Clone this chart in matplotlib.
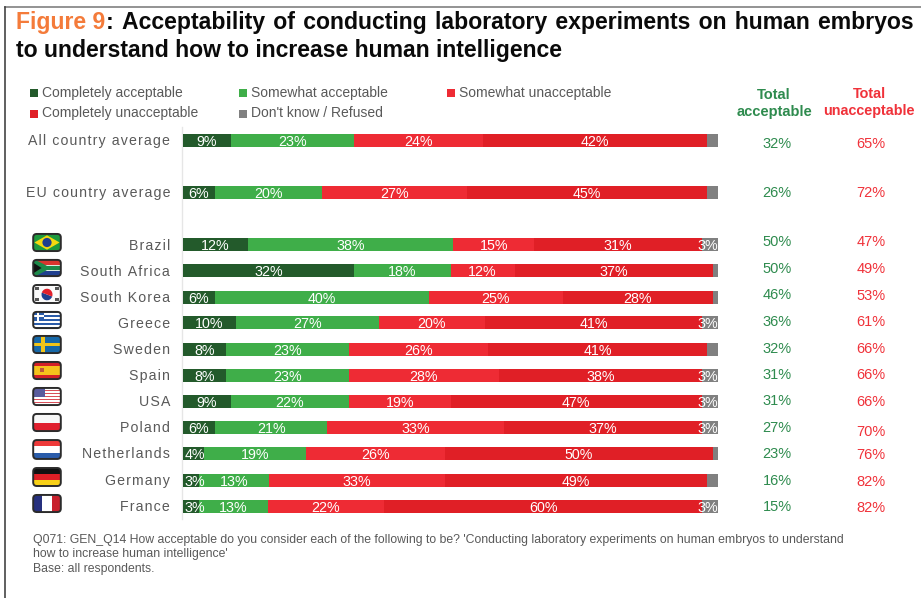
import matplotlib
matplotlib.use("Agg")
import matplotlib.pyplot as plt
from matplotlib.patches import FancyBboxPatch, Polygon, Circle, Rectangle, Wedge
from matplotlib.transforms import Affine2D

plt.rcParams['font.family'] = ['Liberation Sans', 'DejaVu Sans']

W, H = 921, 598

# survey results, one entry per row
countries = ["All country average", "EU country average", "Brazil", "South Africa",
             "South Korea", "Greece", "Sweden", "Spain", "USA", "Poland",
             "Netherlands", "Germany", "France"]
completely_acc = [9, 6, 12, 32, 6, 10, 8, 8, 9, 6, 4, 3, 3]
somewhat_acc = [23, 20, 38, 18, 40, 27, 23, 23, 22, 21, 19, 13, 13]
somewhat_unacc = [24, 27, 15, 12, 25, 20, 26, 28, 19, 33, 26, 33, 22]
completely_unacc = [42, 45, 31, 37, 28, 41, 41, 38, 47, 37, 50, 49, 60]
dont_know = [2, 2, 3, 1, 1, 3, 2, 3, 3, 3, 1, 2, 3]
dont_know_labelled = [False, False, True, False, False, True, False, True, True, True, False, False, True]
total_acc = [32, 26, 50, 50, 46, 36, 32, 31, 31, 27, 23, 16, 15]
total_unacc = [65, 72, 47, 49, 53, 61, 66, 66, 66, 70, 76, 82, 82]

series = [completely_acc, somewhat_acc, somewhat_unacc, completely_unacc, dont_know]
colors = ["#235A2B", "#3FAE49", "#EE2B34", "#E01F26", "#808080"]
legend_names = ["Completely acceptable", "Somewhat acceptable", "Somewhat unacceptable",
                "Completely unacceptable", "Don't know / Refused"]

# layout, in pixels from the top left
row_y = [140, 192, 244.5, 270.5, 297, 322.7, 349, 375, 401, 427, 453.5, 480, 506]
acc_y = [144, 193, 242, 269, 295, 322, 349, 375, 401, 428, 454, 481, 507]
unacc_y = [144, 193, 242, 269, 296, 322, 349, 375, 402, 432, 455, 482, 508]
flag_tops = [233, 259, 284, 311, 335, 361, 387, 413, 439, 467, 494]
flag_bottoms = [252, 277, 304, 329, 354, 380, 406, 432, 460, 487, 513]
BAR_LEFT, BAR_RIGHT, BAR_TOP, BAR_BOTTOM = 183, 718, 127, 519

GREY_TEXT = "#595959"
GREEN_TEXT = "#2E8B4E"
RED_TEXT = "#F0323A"


def track(s):
    # hair spaces between the letters give the wider letter spacing of the row labels
    return "\u200a".join(s)


def flag_axes(fig, top, bottom):
    ax = fig.add_axes([32 / W, 1 - bottom / H, 30 / W, (bottom - top) / H])
    ax.set_xlim(0, 1)
    ax.set_ylim(1, 0)
    ax.axis("off")
    return ax


def finish_flag(ax):
    # rounded corners and a dark outline on top of whatever was drawn
    clip = FancyBboxPatch((0.04, 0.05), 0.92, 0.9, boxstyle="round,pad=0,rounding_size=0.12",
                          mutation_aspect=1.5, transform=ax.transData, fc="none", ec="none")
    ax.add_patch(clip)
    for art in list(ax.patches) + list(ax.collections):
        if art is not clip:
            art.set_clip_path(clip)
    ax.add_patch(FancyBboxPatch((0.04, 0.05), 0.92, 0.9, boxstyle="round,pad=0,rounding_size=0.12",
                                mutation_aspect=1.5, fc="none", ec="#2b2b2b", lw=1.4, clip_on=False))


def h_bands(ax, cols):
    n = len(cols)
    for i, c in enumerate(cols):
        ax.add_patch(Rectangle((0, i / n), 1, 1 / n, fc=c, ec="none"))


def v_bands(ax, cols):
    n = len(cols)
    for i, c in enumerate(cols):
        ax.add_patch(Rectangle((i / n, 0), 1 / n, 1, fc=c, ec="none"))


def round_scale(ax):
    # lets circles be given in pixels inside the stretched 0-1 flag axes
    return Affine2D().scale(1 / 30, 1 / 19) + ax.transData


def brazil(ax):
    h_bands(ax, ["#1E9A3E"])
    ax.add_patch(Polygon([(0.08, 0.5), (0.5, 0.12), (0.92, 0.5), (0.5, 0.88)], fc="#F5D90F", ec="none"))
    ax.add_patch(Circle((15, 9.5), 4.6, fc="#1F3F8F", ec="none", transform=round_scale(ax)))


def south_africa(ax):
    h_bands(ax, ["#D9352F", "#FFFFFF", "#1F3F8F"])
    ax.add_patch(Polygon([(0, 0.1), (0.42, 0.5), (0, 0.9)], fc="#F5C518", ec="none"))
    ax.add_patch(Polygon([(0.06, 0.0), (0.5, 0.38), (1, 0.38), (1, 0.62), (0.5, 0.62), (0.06, 1)], fc="#1E8A4A", ec="none"))
    ax.add_patch(Polygon([(0, 0.16), (0.32, 0.5), (0, 0.84)], fc="#111111", ec="none"))


def south_korea(ax):
    h_bands(ax, ["#FAFAFA"])
    ax.add_patch(Wedge((15, 10), 5.5, 20, 200, fc="#1F3F8F", ec="none", transform=round_scale(ax)))
    ax.add_patch(Wedge((15, 10), 5.5, 200, 380, fc="#E0202C", ec="none", transform=round_scale(ax)))
    for x, y in [(0.17, 0.22), (0.83, 0.22), (0.17, 0.78), (0.83, 0.78)]:
        ax.add_patch(Rectangle((x - 0.07, y - 0.08), 0.14, 0.16, fc="#555555", ec="none"))


def greece(ax):
    h_bands(ax, ["#2A5CAA", "#FFFFFF"] * 4 + ["#2A5CAA"])
    ax.add_patch(Rectangle((0, 0), 0.4, 0.55, fc="#2A5CAA", ec="none"))
    ax.add_patch(Rectangle((0.16, 0), 0.08, 0.55, fc="#FFFFFF", ec="none"))
    ax.add_patch(Rectangle((0, 0.22), 0.4, 0.11, fc="#FFFFFF", ec="none"))


def sweden(ax):
    h_bands(ax, ["#1668A8"])
    ax.add_patch(Rectangle((0.3, 0), 0.14, 1, fc="#F0C419", ec="none"))
    ax.add_patch(Rectangle((0, 0.41), 1, 0.18, fc="#F0C419", ec="none"))


def spain(ax):
    h_bands(ax, ["#D32027", "#F6C21C", "#F6C21C", "#D32027"])
    ax.add_patch(Rectangle((0.28, 0.38), 0.12, 0.22, fc="#C0563A", ec="none"))


def usa(ax):
    h_bands(ax, ["#D9505A", "#FFFFFF"] * 6 + ["#D9505A"])
    ax.add_patch(Rectangle((0, 0), 0.42, 0.52, fc="#5A5C9E", ec="none"))


def poland(ax):
    h_bands(ax, ["#F7F7F7", "#E01F2E"])


def netherlands(ax):
    h_bands(ax, ["#EE3A3A", "#FFFFFF", "#2A5CAA"])


def germany(ax):
    h_bands(ax, ["#111111", "#DD1F26", "#F8D117"])


def france(ax):
    v_bands(ax, ["#26307E", "#FFFFFF", "#C8202C"])


flag_painters = [brazil, south_africa, south_korea, greece, sweden, spain, usa,
                 poland, netherlands, germany, france]

fig = plt.figure(figsize=(W / 100, H / 100), dpi=100, facecolor="white")

# whole figure axes in pixel units for the text and frame
page = fig.add_axes([0, 0, 1, 1])
page.set_xlim(0, W)
page.set_ylim(H, 0)
page.axis("off")

page.plot([4.5, W], [6.5, 6.5], color="#8a8a8a", lw=1.3)
page.plot([4.5, 4.5], [6.5, H], color="#444444", lw=1.2)

# title, first line stretched to the full width through wider word gaps
TITLE_SIZE = 16.55
gap = " \u200a"
page.text(16, 29.5, "Figure 9", color="#F47B3A", fontsize=TITLE_SIZE, fontweight="bold", va="baseline")
page.text(106, 29.5, gap.join(": Acceptability of conducting laboratory experiments on human embryos".split(" ")),
          color="#0a0a0a", fontsize=TITLE_SIZE, fontweight="bold", va="baseline")
page.text(16, 57, "to understand how to increase human intelligence", color="#0a0a0a",
          fontsize=TITLE_SIZE, fontweight="bold", va="baseline")

# legend
legend_pos = [(30, 92.5), (239, 92.5), (447, 92.5), (30, 113), (239, 113)]
for name, col, (lx, ly) in zip(legend_names, colors, legend_pos):
    page.add_patch(Rectangle((lx, ly - 3.5), 8, 8, fc=col, ec="none"))
    page.text(lx + 12, ly, name, color=GREY_TEXT, fontsize=10, va="center")

# column headings for the totals
page.text(774, 95, "Total", color=GREEN_TEXT, fontsize=10.5, fontweight="bold", ha="center", va="center")
page.text(774, 112, "acceptable", color=GREEN_TEXT, fontsize=10.5, fontweight="bold", ha="center", va="center")
page.text(869, 94, "Total", color=RED_TEXT, fontsize=10.4, fontweight="bold", ha="center", va="center")
page.text(869, 111, "unacceptable", color=RED_TEXT, fontsize=10.4, fontweight="bold", ha="center", va="center")

# stacked bars
ax = fig.add_axes([BAR_LEFT / W, 1 - BAR_BOTTOM / H, (BAR_RIGHT - BAR_LEFT) / W, (BAR_BOTTOM - BAR_TOP) / H])
ax.set_xlim(0, 100)
ax.set_ylim(BAR_BOTTOM, BAR_TOP)
ax.axis("off")
ax.patch.set_alpha(0)
page.plot([182, 182], [BAR_TOP, BAR_BOTTOM], color="#e6e6e6", lw=1)

for i, y in enumerate(row_y):
    vals = [s[i] for s in series]
    # rows are rounded, so each is scaled to fill the full width
    scale = 100 / sum(vals)
    left = 0
    for j, v in enumerate(vals):
        w = v * scale
        ax.barh(y, w, left=left, height=13, color=colors[j], edgecolor="none")
        if j == 0 and v < 5:
            # too narrow to centre the label, start it at the bar's edge
            ax.text(0.3, y + 1.5, f"{v}%", color="white", fontsize=10.3, ha="left", va="center")
        elif j == 4 and dont_know_labelled[i]:
            ax.text(100, y + 1.5, f"{v}%", color="white", fontsize=10.3, ha="right", va="center")
        elif j < 4:
            ax.text(left + w / 2, y + 1.5, f"{v}%", color="white", fontsize=10.3, ha="center", va="center")
        left += w

    page.text(170, y + 1, track(countries[i]), color=GREY_TEXT, fontsize=10.2, ha="right", va="center")
    page.text(777, acc_y[i], f"{total_acc[i]}%", color=GREEN_TEXT, fontsize=10.5, ha="center", va="center")
    page.text(871, unacc_y[i], f"{total_unacc[i]}%", color=RED_TEXT, fontsize=10.5, ha="center", va="center")

# flags next to the country rows
for paint, top, bottom in zip(flag_painters, flag_tops, flag_bottoms):
    fax = flag_axes(fig, top, bottom)
    paint(fax)
    finish_flag(fax)

# footnote
notes = ["Q071: GEN_Q14 How acceptable do you consider each of the following to be? 'Conducting laboratory experiments on human embryos to understand",
         "how to increase human intelligence'",
         "Base: all respondents."]
for line, ny in zip(notes, [543, 557.5, 572]):
    page.text(33, ny, line, color=GREY_TEXT, fontsize=8.8, va="baseline")

fig.savefig("out.png", dpi=100, facecolor="white")
